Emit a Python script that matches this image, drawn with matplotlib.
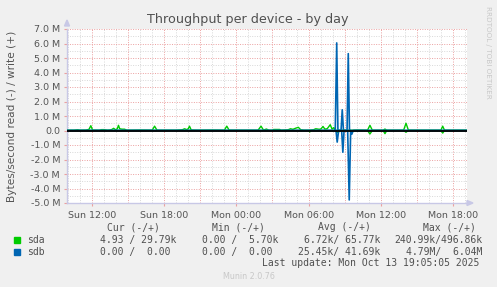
import matplotlib
matplotlib.use("Agg")
import matplotlib.pyplot as plt
from matplotlib.patches import Polygon

# ---------------- data (hours since Sun 00:00, values in MB/s) ----------------
sda_write_t = [9.92, 10.5, 10.8, 11.0, 11.5, 11.75, 11.9, 12.05, 12.6, 12.8, 13.0, 13.3,
               13.6, 13.8, 13.95, 14.1, 14.2, 14.3, 14.5, 14.7, 14.9, 15.3, 16.0, 17.0,
               17.2, 17.4, 18.0, 19.0, 19.5, 19.7, 19.85, 20.0, 20.1, 20.25, 20.8, 22.0,
               23.0, 23.2, 23.4, 24.5, 25.8, 26.05, 26.25, 26.5, 26.7, 27.0, 27.1, 27.6,
               27.7, 28.3, 28.5, 28.7, 28.9, 29.15, 29.35, 29.6, 30.0, 30.4, 30.6, 30.9,
               31.05, 31.2, 31.35, 31.55, 31.8, 31.95, 32.1, 32.2, 33.6, 34.0, 34.9, 35.1,
               35.3, 36.2, 36.35, 36.5, 37.9, 38.1, 38.3, 39.5, 41.0, 41.15, 41.3, 42.5, 43.17]
sda_write_v = [0.02, 0.02, 0.05, 0.02, 0.03, 0.08, 0.33, 0.03, 0.02, 0.06, 0.06, 0.02,
               0.05, 0.15, 0.05, 0.12, 0.36, 0.12, 0.09, 0.09, 0.02, 0.02, 0.03, 0.02,
               0.30, 0.02, 0.02, 0.02, 0.05, 0.12, 0.06, 0.12, 0.30, 0.03, 0.02, 0.03,
               0.02, 0.30, 0.02, 0.02, 0.02, 0.30, 0.03, 0.10, 0.02, 0.02, 0.07, 0.07,
               0.02, 0.05, 0.12, 0.08, 0.15, 0.22, 0.05, 0.02, 0.02, 0.05, 0.12, 0.08,
               0.12, 0.28, 0.10, 0.12, 0.40, 0.10, 0.20, 0.02, 0.02, 0.03, 0.02, 0.36,
               0.02, 0.02, 0.10, 0.02, 0.02, 0.50, 0.02, 0.02, 0.02, 0.30, 0.02, 0.02, 0.02]

sda_read_t = [9.92, 30.0, 30.1, 30.2, 32.2, 32.45, 32.6, 33.5, 33.65, 33.8, 34.9, 35.1,
              35.3, 36.2, 36.35, 36.5, 37.9, 38.1, 38.3, 41.0, 41.15, 41.3, 43.17]
sda_read_v = [0.0, 0.0, -0.10, 0.0, 0.0, -0.15, 0.0, 0.0, -0.10, 0.0, 0.0, -0.24,
              0.0, 0.0, -0.22, 0.0, 0.0, -0.12, 0.0, 0.0, -0.18, 0.0, 0.0]

sdb_write_t = [9.92, 32.22, 32.34, 32.44, 32.7, 32.8, 32.9, 33.2, 33.3, 33.4, 43.17]
sdb_write_v = [0.0, 0.0, 6.04, 0.0, 0.0, 1.43, 0.0, 0.0, 5.30, 0.0, 0.0]

sdb_read_t = [9.92, 32.28, 32.38, 32.5, 32.75, 32.85, 32.95, 33.25, 33.38, 33.5, 33.6, 33.7, 43.17]
sdb_read_v = [0.0, 0.0, -0.80, 0.0, 0.0, -1.50, 0.0, 0.0, -4.79, 0.0, -0.25, 0.0, 0.0]

x_ticks = [12, 18, 24, 30, 36, 42]
x_labels = ["Sun 12:00", "Sun 18:00", "Mon 00:00", "Mon 06:00", "Mon 12:00", "Mon 18:00"]
y_ticks = [7, 6, 5, 4, 3, 2, 1, 0, -1, -2, -3, -4, -5]
y_labels = ["7.0 M", "6.0 M", "5.0 M", "4.0 M", "3.0 M", "2.0 M", "1.0 M", "0.0",
            "-1.0 M", "-2.0 M", "-3.0 M", "-4.0 M", "-5.0 M"]

legend_names = ["sda", "sdb"]
legend_colors = ["#00CC00", "#0066B3"]
cur_vals = ["4.93 / 29.79k", "0.00 /  0.00"]
min_vals = ["0.00 /  5.70k", "0.00 /  0.00"]
avg_vals = ["6.72k/ 65.77k", "25.45k/ 41.69k"]
max_vals = ["240.99k/496.86k", "4.79M/  6.04M"]

# ---------------- figure ----------------
W, H = 497, 287
fig = plt.figure(figsize=(W / 100, H / 100), dpi=100, facecolor="#F0F0F0")
ax = fig.add_axes([67 / W, 84 / H, 400 / W, 174 / H])
ax.set_facecolor("white")
x0, x1 = 9.92, 43.17
ax.set_xlim(x0, x1)
ax.set_ylim(-5, 7)

minor_c = "#D8D8D8"
major_c = "#EBA0A0"
dash = (0, (1, 1.5))
h = 10
while h <= 43:
    if h % 3 == 0:
        ax.axvline(h, color=major_c, lw=0.7, ls=dash, zorder=1)
    else:
        ax.axvline(h, color=minor_c, lw=0.7, ls=dash, zorder=0.5)
    h += 1
yv = -5.0
while yv <= 7.0:
    if abs(yv - round(yv)) < 1e-9:
        ax.axhline(yv, color=major_c, lw=0.7, ls=dash, zorder=1)
    else:
        ax.axhline(yv, color=minor_c, lw=0.7, ls=dash, zorder=0.5)
    yv += 0.5

ax.plot(sda_write_t, sda_write_v, color="#00CC00", lw=1.0, zorder=3)
ax.plot(sda_read_t, sda_read_v, color="#00CC00", lw=1.0, zorder=3)
ax.plot(sdb_write_t, sdb_write_v, color="#0066B3", lw=1.2, zorder=4)
ax.plot(sdb_read_t, sdb_read_v, color="#0066B3", lw=1.2, zorder=4)
ax.axhline(0, color="black", lw=1.3, zorder=5)

for s in ["top", "right"]:
    ax.spines[s].set_visible(False)
axis_c = "#C8C8E6"
ax.spines["left"].set_color(axis_c)
ax.spines["bottom"].set_color(axis_c)
ax.spines["left"].set_linewidth(1.0)
ax.spines["bottom"].set_linewidth(1.0)

ax.set_xticks(x_ticks)
ax.set_xticklabels(x_labels)
ax.set_yticks(y_ticks)
ax.set_yticklabels(y_labels)
ax.tick_params(axis="both", length=2, width=0.8, color=major_c, labelsize=6.8,
               labelcolor="#555555", pad=3)
ax.tick_params(axis="x", pad=4)

# arrows on axes
fig.patches.append(Polygon([[64.5 / W, 1 - 26 / H], [69.5 / W, 1 - 26 / H], [67 / W, 1 - 20 / H]],
                           closed=True, transform=fig.transFigure, color=axis_c))
fig.patches.append(Polygon([[467 / W, 1 - 200.5 / H], [467 / W, 1 - 205.5 / H], [473 / W, 1 - 203 / H]],
                           closed=True, transform=fig.transFigure, color=axis_c))

# titles
fig.text(248 / W, 1 - 19 / H, "Throughput per device - by day", ha="center", va="center",
         fontsize=9.2, color="#505050")
fig.text(12 / W, 1 - 116 / H, "Bytes/second read (-) / write (+)", rotation=90,
         ha="center", va="center", fontsize=7.6, color="#555555")
fig.text(488 / W, 1 - 52 / H, "RRDTOOL / TOBI OETIKER", rotation=270, ha="center",
         va="center", fontsize=5.2, color="#C8C8C8")

# legend
mono = "DejaVu Sans Mono"
tc = "#505050"
fs = 7.0
def ftext(x, y, s, **kw):
    fig.text(x / W, 1 - y / H, s, va="center", ha="left", family=mono, fontsize=fs,
             color=tc, **kw)

ftext(107, 227.5, "Cur (-/+)")
ftext(212, 227.5, "Min (-/+)")
ftext(318, 227.5, "Avg (-/+)")
ftext(423, 227.5, "Max (-/+)")
rows_y = [240, 251.8]
for i in range(2):
    y = rows_y[i]
    fig.patches.append(Polygon([[14 / W, 1 - (y - 3) / H], [20 / W, 1 - (y - 3) / H],
                                [20 / W, 1 - (y + 3) / H], [14 / W, 1 - (y + 3) / H]],
                               closed=True, transform=fig.transFigure, color=legend_colors[i]))
    ftext(27, y, legend_names[i])
    ftext(99.5, y, cur_vals[i])
    ftext(201.5, y, min_vals[i])
    ftext(380 - 5.85 * len(avg_vals[i]), y, avg_vals[i])
    ftext(482.5 - 5.85 * len(max_vals[i]), y, max_vals[i])

ftext(262, 263.5, "Last update: Mon Oct 13 19:05:05 2025")
fig.text(223 / W, 1 - 276.5 / H, "Munin 2.0.76", va="center", ha="left", fontsize=5.8,
         color="#C8C8C8")

fig.savefig("out.png", dpi=100, facecolor=fig.get_facecolor())
